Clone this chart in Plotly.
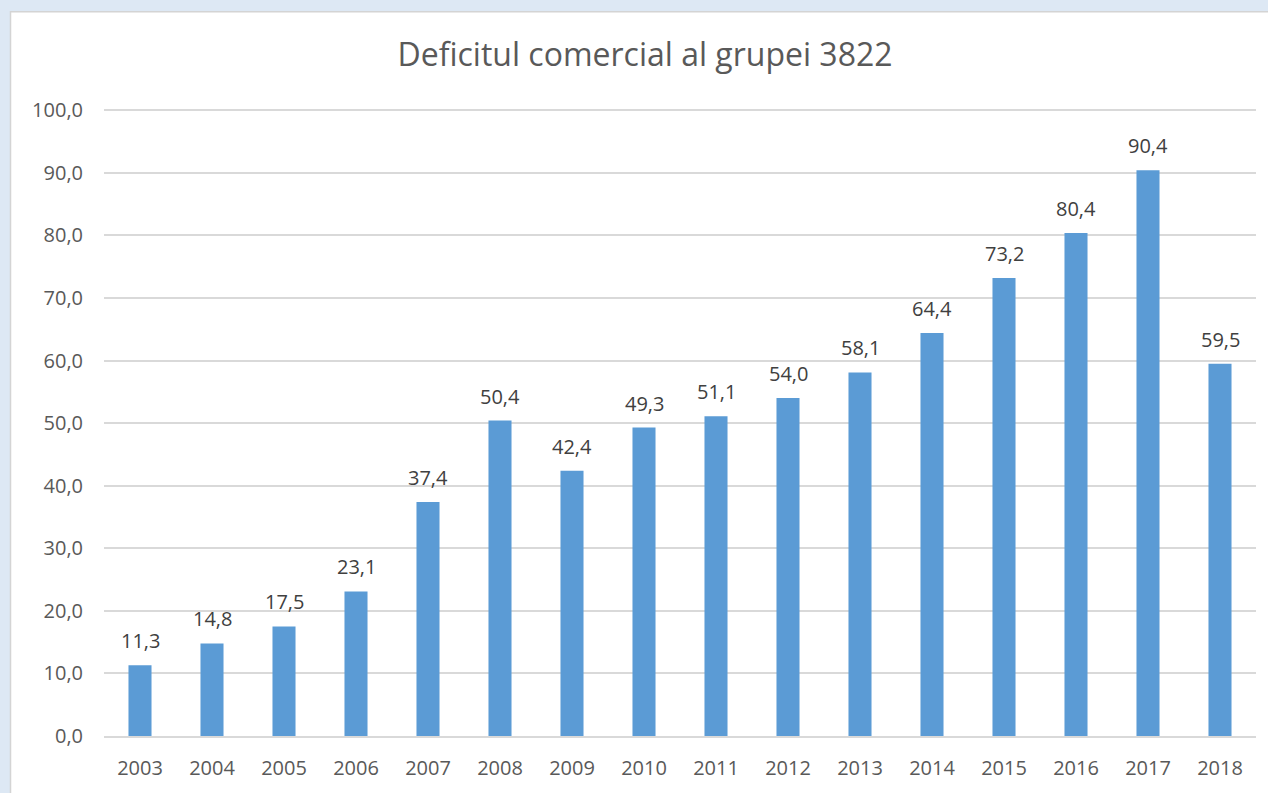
import plotly.graph_objects as go

years = ["2003", "2004", "2005", "2006", "2007", "2008", "2009", "2010",
         "2011", "2012", "2013", "2014", "2015", "2016", "2017", "2018"]
values = [11.3, 14.8, 17.5, 23.1, 37.4, 50.4, 42.4, 49.3,
          51.1, 54.0, 58.1, 64.4, 73.2, 80.4, 90.4, 59.5]
title_text = "Deficitul comercial al grupei 3822"
y_ticks = [0, 10, 20, 30, 40, 50, 60, 70, 80, 90, 100]

W, H = 1268, 793
L, R, T, B = 104, 12, 109, 55
pw, ph = W - L - R, H - T - B
BG = "#dde8f4"
FONT = "Open Sans, sans-serif"

def px_x(p):
    return (p - L) / pw

def px_y(p):
    return (H - B - p) / ph

fig = go.Figure()
fig.add_trace(go.Bar(
    x=years, y=values,
    marker=dict(color="#5b9bd5", line=dict(width=0)),
    hoverinfo="x+y",
))

annotations = []
for i, v in enumerate(values):
    annotations.append(dict(
        x=i, y=v, xref="x", yref="y",
        text=f"{v:.1f}".replace(".", ","),
        showarrow=False, yanchor="bottom", yshift=9,
        font=dict(family=FONT, size=20, color="#404040"),
    ))

fig.update_layout(
    width=W, height=H,
    margin=dict(l=L, r=R, t=T, b=B, pad=0),
    paper_bgcolor=BG,
    plot_bgcolor="rgba(0,0,0,0)",
    separators=",.",
    bargap=0.68,
    showlegend=False,
    title=dict(
        text=title_text, x=px_x(645), xref="paper", xanchor="center",
        y=1 - 55 / H, yref="container", yanchor="middle",
        font=dict(family=FONT, size=32, color="#595959"),
    ),
    shapes=[dict(
        type="rect", xref="paper", yref="paper",
        x0=px_x(10.5), x1=px_x(W + 5), y0=px_y(H + 5), y1=px_y(11.5),
        fillcolor="white", line=dict(color="#d4d4d4", width=1.5), layer="below",
    )],
    annotations=annotations,
    xaxis=dict(
        type="category", range=[-0.5, len(years) - 0.5], autorange=False,
        showgrid=False, showline=True, linecolor="#d9d9d9", linewidth=1.5,
        ticks="", ticklabelstandoff=13,
        tickfont=dict(family=FONT, size=20, color="#595959"),
    ),
    yaxis=dict(
        range=[0, 100.2], autorange=False, tickvals=y_ticks,
        ticktext=[f"{t:.1f}".replace(".", ",") for t in y_ticks],
        showgrid=True, gridcolor="#d9d9d9", gridwidth=1.5,
        zeroline=False, showline=False, ticks="", ticklabelstandoff=20,
        tickfont=dict(family=FONT, size=20, color="#595959"),
    ),
)

fig.write_html(
    "out.html",
    config={"displayModeBar": False},
    post_script=(
        "document.body.style.margin='0';"
        "document.body.style.padding='0';"
        "document.body.style.overflow='hidden';"
        f"document.body.style.background='{BG}';"
    ),
)
